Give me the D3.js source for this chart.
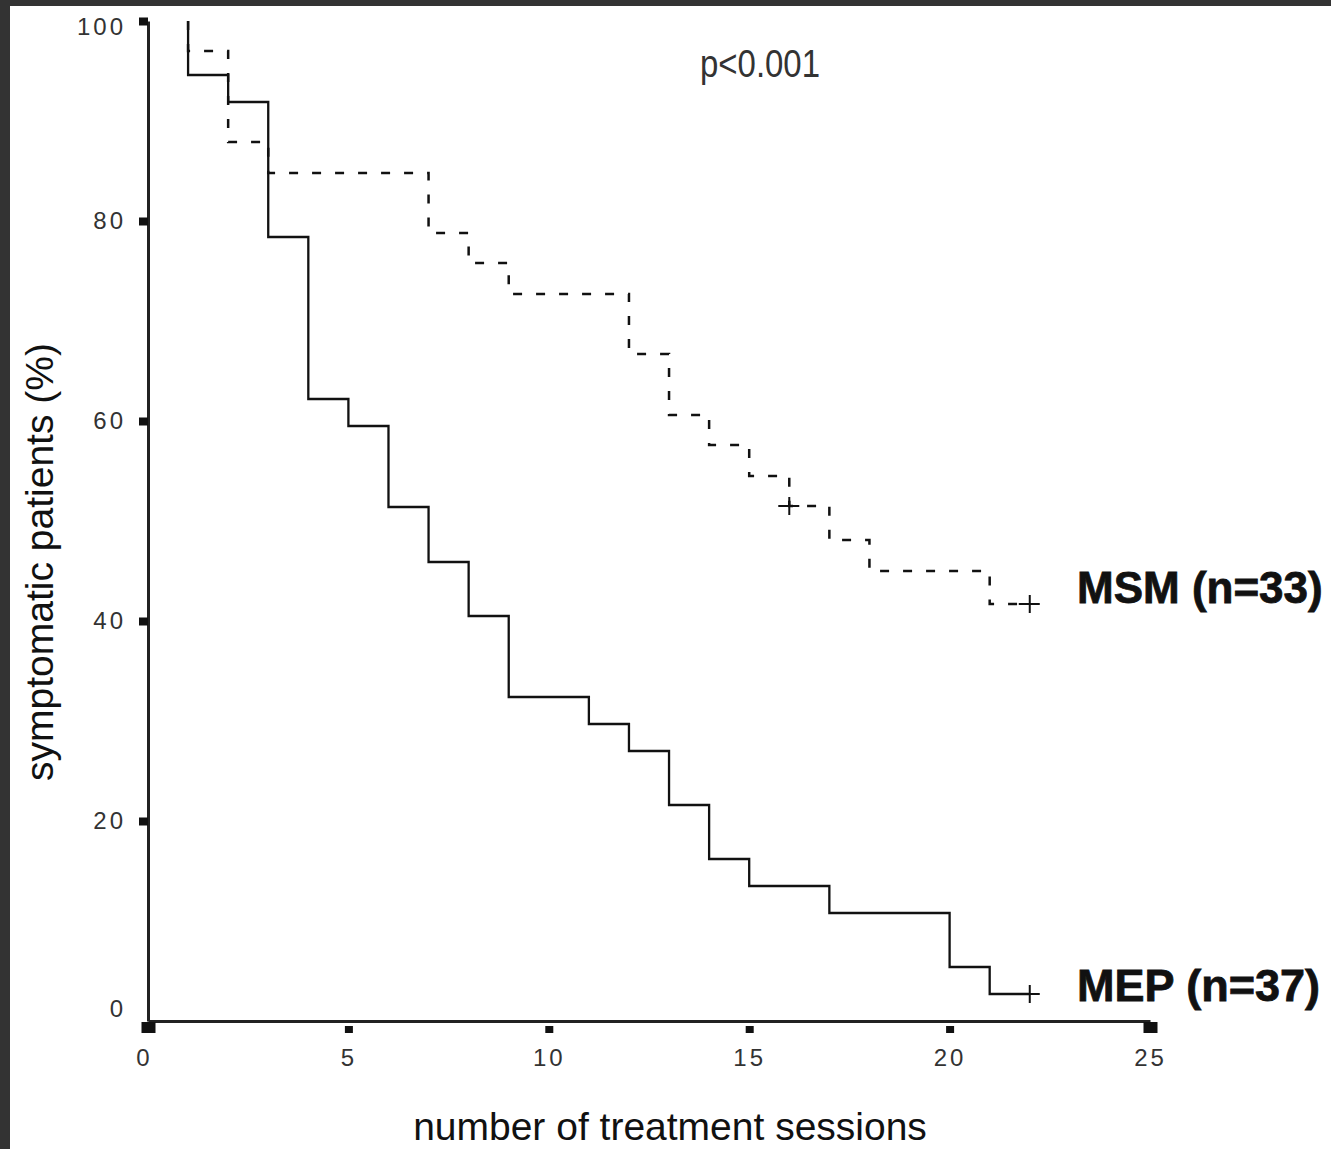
<!DOCTYPE html>
<html><head><meta charset="utf-8">
<script src="https://cdn.jsdelivr.net/npm/d3@7"></script>
<style>
html,body{margin:0;padding:0;background:#fff;}
svg{display:block;}
text{font-family:"Liberation Sans",Arial,sans-serif;}
</style></head>
<body>
<svg id="chart" width="1331" height="1149"></svg>
<script>
// ---- data ----
const xTicks = [0,5,10,15,20,25];
const yTicks = [0,20,40,60,80,100];
const startTime = 1, startSurv = 100;
const mepTimes = [1,2,3,4,5,6,7,8,9,11,12,13,14,15,17,20,21,22];
const mepSurv  = [94.6,91.9,78.4,62.2,59.5,51.4,45.9,40.5,32.4,29.7,27.0,21.6,16.2,13.5,10.8,5.4,2.7,2.7];
const mepCensorTimes = [22];
const mepCensorSurv  = [2.7];
const msmTimes = [1,2,3,7,8,9,12,13,14,15,16,17,18,21,22];
const msmSurv  = [97.0,87.9,84.8,78.8,75.8,72.7,66.7,60.6,57.6,54.5,51.5,48.1,45.0,41.7,41.7];
const msmCensorTimes = [16,22];
const msmCensorSurv  = [51.5,41.7];
const seriesLabels = ["MSM (n=33)","MEP (n=37)"];
const pText = "p<0.001";
const xTitle = "number of treatment sessions";
const yTitle = "symptomatic patients (%)";

// ---- drawing ----
const svg = d3.select("#chart");
svg.append("rect").attr("width",1331).attr("height",1149).attr("fill","#fff");
svg.append("rect").attr("x",0).attr("y",0).attr("width",1331).attr("height",6).attr("fill","#333");
svg.append("rect").attr("x",0).attr("y",0).attr("width",10).attr("height",1149).attr("fill","#333");

const x = d3.scaleLinear().domain([0,25]).range([148,1150]);
const y = d3.scaleLinear().domain([0,100]).range([1021,21]);

// axes
const xAxis = d3.axisBottom(x).tickValues(xTicks).tickSize(0).tickSizeOuter(0).tickPadding(0);
const gx = svg.append("g").attr("transform",`translate(0,${y(0)})`).call(xAxis);
gx.select(".domain").attr("stroke","#222").attr("stroke-width",3);
gx.selectAll(".tick text")
  .attr("font-family","Liberation Sans, Arial, sans-serif")
  .attr("font-size",24).attr("fill","#333").attr("letter-spacing",3)
  .attr("dy",null).attr("y",45)
  .attr("dx",(d,i)=> i===0 ? -4 : 0);
gx.selectAll(".tick").append("rect")
  .attr("x",(d,i)=> (i===0||i===xTicks.length-1) ? -7 : -4)
  .attr("y",(d,i)=> (i===0||i===xTicks.length-1) ? 1 : 5)
  .attr("width",(d,i)=> (i===0||i===xTicks.length-1) ? 14 : 8)
  .attr("height",(d,i)=> (i===0||i===xTicks.length-1) ? 11 : 7)
  .attr("fill","#111");

const yAxis = d3.axisLeft(y).tickValues(yTicks).tickSize(0).tickSizeOuter(0).tickPadding(0);
const gy = svg.append("g").attr("transform",`translate(${x(0)},0)`).call(yAxis);
gy.select(".domain").attr("stroke","#222").attr("stroke-width",3);
gy.selectAll(".tick text")
  .attr("font-family","Liberation Sans, Arial, sans-serif")
  .attr("font-size",24).attr("fill","#333").attr("letter-spacing",3)
  .attr("x",-22)
  .attr("dy",(d)=> d===0 ? "-0.2em" : (d===100 ? "0.55em" : "0.32em"));
gy.selectAll(".tick").filter(d=>d!==0).append("rect")
  .attr("x",-9).attr("y",-4).attr("width",9).attr("height",8).attr("fill","#111");

// step curves
const line = d3.line().x(d=>x(d[0])).y(d=>y(d[1])).curve(d3.curveStepAfter);
const mepPts = [[startTime,startSurv]].concat(mepTimes.map((t,i)=>[t,mepSurv[i]]));
const msmPts = [[startTime,startSurv]].concat(msmTimes.map((t,i)=>[t,msmSurv[i]]));

svg.append("path").datum(msmPts).attr("d",line)
  .attr("fill","none").attr("stroke","#111").attr("stroke-width",2.5)
  .attr("stroke-dasharray","9,14");
svg.append("path").datum(mepPts).attr("d",line)
  .attr("fill","none").attr("stroke","#111").attr("stroke-width",2.3);

// censor marks
function censor(times, surv){
  const pts = times.map((t,i)=>[t,surv[i]]);
  const g = svg.append("g");
  g.selectAll("path").data(pts).join("path")
    .attr("d",d=>{const cx=x(d[0]), cy=y(d[1]);
      return `M${cx-11},${cy}H${cx+10}M${cx},${cy-9}V${cy+9}`;})
    .attr("stroke","#111").attr("stroke-width",2).attr("fill","none");
}
censor(mepCensorTimes, mepCensorSurv);
censor(msmCensorTimes, msmCensorSurv);

// labels
svg.append("text").attr("x",1077).attr("y",603)
  .attr("font-size",44).attr("font-weight","bold").attr("fill","#111")
  .attr("stroke","#111").attr("stroke-width",0.8).text(seriesLabels[0]);
svg.append("text").attr("x",1077).attr("y",1001)
  .attr("font-size",45).attr("font-weight","bold").attr("fill","#111")
  .attr("stroke","#111").attr("stroke-width",0.8).text(seriesLabels[1]);

svg.append("text").attr("x",700).attr("y",77)
  .attr("font-size",38).attr("fill","#333")
  .attr("textLength",120).attr("lengthAdjust","spacingAndGlyphs").text(pText);

svg.append("text").attr("x",670).attr("y",1140).attr("text-anchor","middle")
  .attr("font-size",39).attr("fill","#111").text(xTitle);

svg.append("text").attr("transform","translate(53,562) rotate(-90)").attr("text-anchor","middle")
  .attr("font-size",39).attr("fill","#111").text(yTitle);
</script>
</body></html>
